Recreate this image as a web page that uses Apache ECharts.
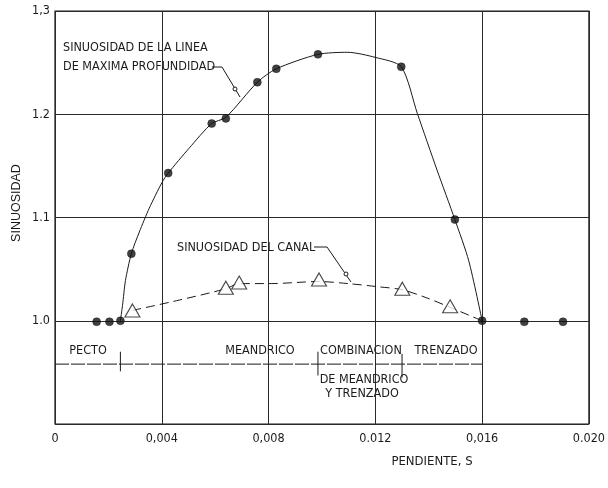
<!DOCTYPE html>
<html><head><meta charset="utf-8">
<script src="https://cdn.jsdelivr.net/npm/echarts@6/dist/echarts.min.js"></script>
<style>html,body{margin:0;padding:0;background:#fff}#c{width:608px;height:488px}</style>
</head><body><div id="c"></div>
<script>
// Tick labels
const xTicks = [0, 0.004, 0.008, 0.012, 0.016, 0.020];
const xTickLabels = ['0', '0,004', '0,008', '0.012', '0,016', '0.020'];
const yTicks = [1.0, 1.1, 1.2, 1.3];
const yTickLabels = ['1.0', '1.1', '1.2', '1,3'];

// Measured points: sinuosidad de la linea de maxima profundidad (filled circles)
const thalwegS = [0.00156, 0.00204, 0.00245, 0.00286, 0.00424, 0.00587, 0.0064, 0.00758, 0.00829, 0.00985, 0.01297, 0.01498, 0.016, 0.01758, 0.01903];
const thalwegSin = [0.999, 0.999, 1.000, 1.065, 1.143, 1.191, 1.196, 1.231, 1.244, 1.258, 1.246, 1.098, 1.000, 0.999, 0.999];

// Fitted curve of thalweg sinuosity
const thalwegCurveS = [0.00245, 0.00253, 0.00264, 0.00286, 0.00316, 0.00353, 0.00401, 0.00424, 0.00502, 0.00587, 0.0064, 0.00758, 0.00829, 0.00985, 0.01097, 0.01201, 0.01297, 0.01357, 0.01431, 0.01498, 0.0155, 0.016];
const thalwegCurveSin = [1.000, 1.015, 1.039, 1.065, 1.086, 1.109, 1.134, 1.143, 1.167, 1.191, 1.197, 1.231, 1.244, 1.258, 1.260, 1.255, 1.246, 1.201, 1.146, 1.098, 1.058, 1.000];

// Measured points: sinuosidad del canal (open triangles)
const canalS = [0.0029, 0.0064, 0.0069, 0.00989, 0.01301, 0.0148];
const canalSin = [1.010, 1.032, 1.037, 1.040, 1.031, 1.014];

// Fitted curve of channel sinuosity
const canalCurveS = [0.0029, 0.00465, 0.0064, 0.0069, 0.0081, 0.00989, 0.01097, 0.01208, 0.01301, 0.01394, 0.0148, 0.016];
const canalCurveSin = [1.010, 1.020, 1.031, 1.036, 1.036, 1.038, 1.036, 1.033, 1.030, 1.022, 1.013, 1.000];

// Channel-type zones
const zoneBounds = [0, 0.00245, 0.00985, 0.013, 0.016];
const zoneNames = ['PECTO', 'MEANDRICO', 'COMBINACION', 'TRENZADO'];
const zoneLevel = 0.958;

const zip = (a, b) => a.map((v, i) => [v, b[i]]);
const ink = '#1a1a1a';
const font = 'DejaVu Sans Condensed';
const fs = 12.5;

const chart = echarts.init(document.getElementById('c'), null, {renderer: 'canvas'});

const sepSeries = zoneBounds.slice(1, 4).map((x, i) => ({
  type: 'line', data: [[x, i === 2 ? 0.968 : 0.970], [x, i === 2 ? 0.945 : (i === 0 ? 0.951 : 0.947)]],
  symbol: 'none', silent: true, lineStyle: {color: ink, width: 1}, z: 4
}));

const txt = (text, x, y, align, size) => ({type: 'text', x, y, style: {text, fontFamily: font, fontSize: size || fs, fill: ink, align: align || 'left', verticalAlign: 'middle'}});

chart.setOption({
  animation: false,
  grid: {left: 55, right: 15, top: 11, bottom: 64, show: true, borderColor: ink, borderWidth: 1.2},
  xAxis: {
    type: 'value', min: 0, max: 0.020, interval: 0.004,
    axisLine: {show: false}, axisTick: {show: false},
    splitLine: {show: true, lineStyle: {color: '#2a2a2a', width: 1}},
    axisLabel: {
      margin: 8, color: ink, fontFamily: font, fontSize: 12.5,
      formatter: v => { const i = xTicks.findIndex(t => Math.abs(t - v) < 1e-9); return i >= 0 ? xTickLabels[i] : ''; }
    }
  },
  yAxis: {
    type: 'value', min: 0.9, max: 1.3, interval: 0.1,
    axisLine: {show: false}, axisTick: {show: false},
    splitLine: {show: true, lineStyle: {color: '#2a2a2a', width: 1}},
    axisLabel: {
      margin: 5, color: ink, fontFamily: font, fontSize: 12.5,
      formatter: v => { const i = yTicks.findIndex(t => Math.abs(t - v) < 1e-6); return i >= 0 ? yTickLabels[i] : ''; }
    }
  },
  series: [
    {type: 'line', data: zip(thalwegCurveS, thalwegCurveSin), smooth: 0.25, symbol: 'none', silent: true,
     lineStyle: {color: ink, width: 1}, z: 2},
    {type: 'line', data: zip(canalCurveS, canalCurveSin), smooth: 0.3, symbol: 'none', silent: true,
     lineStyle: {color: ink, width: 1, type: [9, 5]}, z: 2},
    {type: 'scatter', data: zip(thalwegS, thalwegSin), symbol: 'circle', symbolSize: 8,
     itemStyle: {color: '#111', borderColor: '#111', borderWidth: 0.5}, z: 5},
    {type: 'scatter', data: zip(canalS, canalSin), symbol: 'triangle', symbolSize: [15, 13],
     itemStyle: {color: '#fff', borderColor: ink, borderWidth: 1.1}, z: 5},
    {type: 'line', data: [[zoneBounds[0], zoneLevel], [zoneBounds[4], zoneLevel]], symbol: 'none', silent: true,
     lineStyle: {color: ink, width: 1, type: [14, 2]}, z: 3},
    ...sepSeries
  ],
  graphic: [
    {type: 'text', x: 17, y: 203, rotation: Math.PI / 2, style: {text: 'SINUOSIDAD', fontFamily: 'Liberation Sans', fontSize: 12.5, fill: ink, align: 'center', verticalAlign: 'middle'}},
    txt('PENDIENTE, S', 432, 462, 'center', 13),
    txt('SINUOSIDAD DE LA LINEA', 63, 48),
    txt('DE MAXIMA PROFUNDIDAD', 63, 67),
    {type: 'polyline', shape: {points: [[212, 67], [222, 67], [240, 97]]}, style: {stroke: ink, lineWidth: 1, fill: null}},
    {type: 'circle', shape: {cx: 235, cy: 89, r: 2}, style: {stroke: ink, fill: '#fff', lineWidth: 1}},
    txt('SINUOSIDAD DEL CANAL', 177, 248),
    {type: 'polyline', shape: {points: [[314, 247], [327, 247], [351, 282]]}, style: {stroke: ink, lineWidth: 1, fill: null}},
    {type: 'circle', shape: {cx: 346, cy: 274, r: 2}, style: {stroke: ink, fill: '#fff', lineWidth: 1}},
    txt(zoneNames[0], 88, 351, 'center'),
    txt(zoneNames[1], 260, 351, 'center'),
    txt(zoneNames[2], 361, 351, 'center'),
    txt(zoneNames[3], 446, 351, 'center'),
    txt('DE MEANDRICO', 364, 380, 'center'),
    txt('Y TRENZADO', 362, 394, 'center')
  ]
});
</script></body></html>
